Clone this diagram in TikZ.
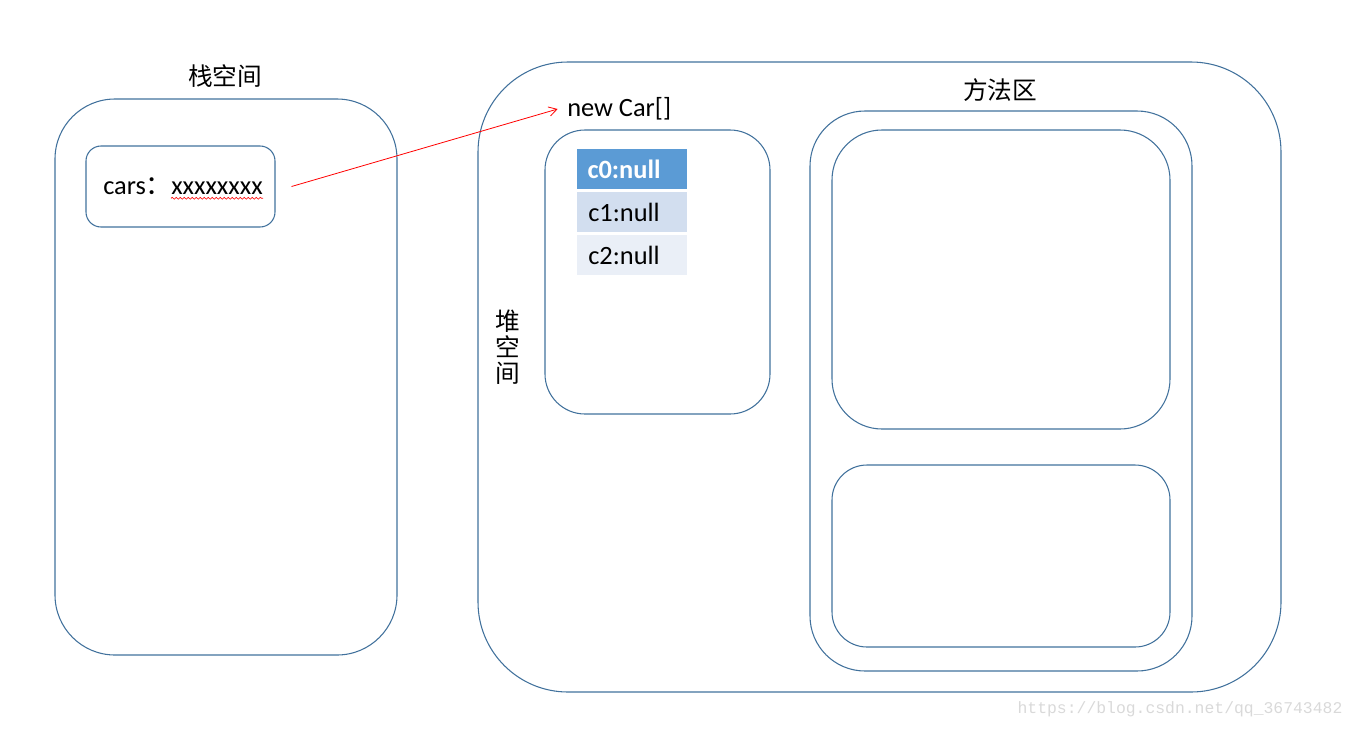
\documentclass[tikz,border=0pt]{standalone}
\usepackage{fontspec}
\usepackage{tikz}
\usepackage{xcolor}
\usetikzlibrary{arrows.meta, decorations.pathmorphing}
\setmainfont{Carlito}
\newfontfamily\cjk{Noto Sans CJK SC}
\newfontfamily\wmfont{Liberation Mono}
\definecolor{boxblue}{RGB}{65, 113, 156}
\definecolor{cellone}{RGB}{91, 155, 213}
\definecolor{celltwo}{RGB}{210, 222, 239}
\definecolor{cellthree}{RGB}{234, 239, 247}

\begin{document}
\begin{tikzpicture}[
    x=0.75pt, y=-0.75pt,
    font=\fontsize{19.8}{23}\selectfont,
    area/.style={draw=boxblue, line width=0.8pt, rounded corners=#1, inner sep=0pt},
    area/.default=12pt,
    cell/.style={fill=#1, minimum width=82.5pt, minimum height=30pt, inner sep=0pt},
    title/.style={font=\cjk\fontsize{18.5}{20}\selectfont}
]

    % ==========================================
    % CANVAS
    % ==========================================
    \useasboundingbox (0, 0) rectangle (1356, 729);

    % ==========================================
    % STACK
    % ==========================================
    \node[area=45pt, minimum width=256.5pt, minimum height=417pt] (stack) at (226, 377) {};
    \node[title] (stacklabel) at (225, 76) {栈空间};

    \node[area=11.25pt, minimum width=141.75pt, minimum height=60.75pt] (carsbox) at (180.5, 186.5) {};
    \node[anchor=base west, inner sep=0pt] (carsname) at (103, 194) {cars{\cjk ：}};
    \node[anchor=base east, inner sep=0pt] (carsval) at (263, 194) {xxxxxxxx};
    \draw[red, line width=0.5pt, decorate,
          decoration={snake, amplitude=0.7pt, segment length=3pt}]
        ([yshift=-3pt]carsval.south west) -- ([yshift=-3pt]carsval.south east);

    % ==========================================
    % HEAP
    % ==========================================
    \node[area=67.5pt, minimum width=602.25pt, minimum height=472.5pt] (heap) at (879.5, 377) {};
    \node[title, align=center, inner sep=0pt] (heaplabel) at (508, 347) {堆\\[-0.5pt]空\\[-0.5pt]间};

    \node[anchor=west, inner sep=0pt] (newcar) at (567, 109) {new Car[]};
    \node[area=30pt, minimum width=168.75pt, minimum height=213pt] (array) at (657.5, 272) {};

    \node[cell=cellone, text=white] (c0) at (632, 169) {\hspace{-12pt}\bfseries c0:null};
    \node[cell=celltwo] (c1) at (632, 212) {\hspace{-12pt}c1:null};
    \node[cell=cellthree] (c2) at (632, 255) {\hspace{-12pt}c2:null};

    % ==========================================
    % METHOD AREA
    % ==========================================
    \node[title] (methodlabel) at (1000, 90) {方法区};
    \node[area=41.25pt, minimum width=286.5pt, minimum height=420pt] (method) at (1001, 391) {};
    \node[area=37.5pt, minimum width=253.5pt, minimum height=224.25pt] (methodtop) at (1001, 279.5) {};
    \node[area=26.25pt, minimum width=253.5pt, minimum height=136.5pt] (methodbot) at (1001, 556) {};

    % ==========================================
    % REFERENCE
    % ==========================================
    \draw[red, line width=0.6pt, -{Straight Barb[length=6pt, width=7pt]}]
        ([xshift=12pt]carsbox.east) -- ([xshift=-7pt]newcar.west);

    % ==========================================
    % WATERMARK
    % ==========================================
    \node[text=black!15, font=\wmfont\fontsize{12.3}{14}\selectfont] (mark) at (1180, 709) {https://blog.csdn.net/qq\_36743482};

\end{tikzpicture}
\end{document}
